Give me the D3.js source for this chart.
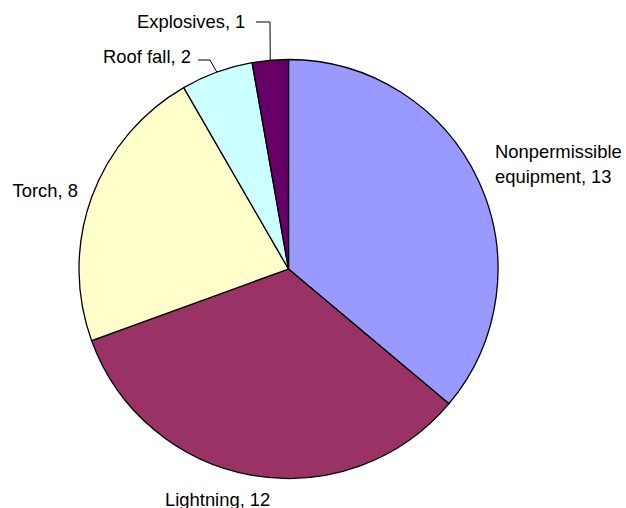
<!DOCTYPE html>
<html>
<head>
<meta charset="utf-8">
<script src="https://cdn.jsdelivr.net/npm/d3@7"></script>
<style>
  html, body { margin: 0; padding: 0; background: #fff; }
  svg { display: block; }
  text { font-family: "Liberation Sans", Arial, sans-serif; font-size: 18.4px; fill: #000; }
</style>
</head>
<body>
<svg id="chart" width="626" height="508"></svg>
<script>
const categories = ["Nonpermissible equipment", "Lightning", "Torch", "Roof fall", "Explosives"];
const values = [13, 12, 8, 2, 1];
const colors = ["#9999FF", "#993366", "#FFFFCC", "#CCFFFF", "#660066"];

const W = 626, H = 508;
const cx = 288.5, cy = 269, R = 209.5;

const svg = d3.select("#chart");
const g = svg.append("g").attr("transform", `translate(${cx},${cy})`);

const pie = d3.pie().sort(null).value(d => d.v);
const data = pie(categories.map((c, i) => ({ c, v: values[i], col: colors[i] })));
const arc = d3.arc().innerRadius(0).outerRadius(R);
const edge = d3.arc().innerRadius(R).outerRadius(R);

g.selectAll("path.slice").data(data).enter().append("path")
  .attr("class", "slice")
  .attr("d", arc)
  .attr("fill", d => d.data.col)
  .attr("stroke", "#000")
  .attr("stroke-width", 1.3)
  .attr("stroke-linejoin", "round");

// label layout (relative to svg), per slice index
const layout = [
  { lines: ["Nonpermissible", "equipment, 13"], x: 495, y: 158, anchor: "start", leader: null },
  { lines: ["Lightning, 12"], x: 165, y: 506, anchor: "start", leader: null },
  { lines: ["Torch, 8"], x: 12.5, y: 197, anchor: "start", leader: null },
  { lines: ["Roof fall, 2"], x: 103, y: 63, anchor: "start", leader: [[198, 60], [210, 60]] },
  { lines: ["Explosives, 1"], x: 137, y: 28, anchor: "start", leader: [[256, 22], [270, 22]] }
];

data.forEach((d, i) => {
  const L = layout[i];
  const t = svg.append("text").attr("x", L.x).attr("y", L.y).attr("text-anchor", L.anchor);
  L.lines.forEach((ln, k) => {
    t.append("tspan").attr("x", L.x).attr("dy", k === 0 ? 0 : 25).text(ln);
  });
  if (L.leader) {
    const c = edge.centroid(d);
    const end = [cx + c[0], cy + c[1]];
    const pts = L.leader.concat([end]);
    svg.append("path")
      .attr("d", d3.line()(pts))
      .attr("fill", "none")
      .attr("stroke", "#000")
      .attr("stroke-width", 1);
  }
});
</script>
</body>
</html>
